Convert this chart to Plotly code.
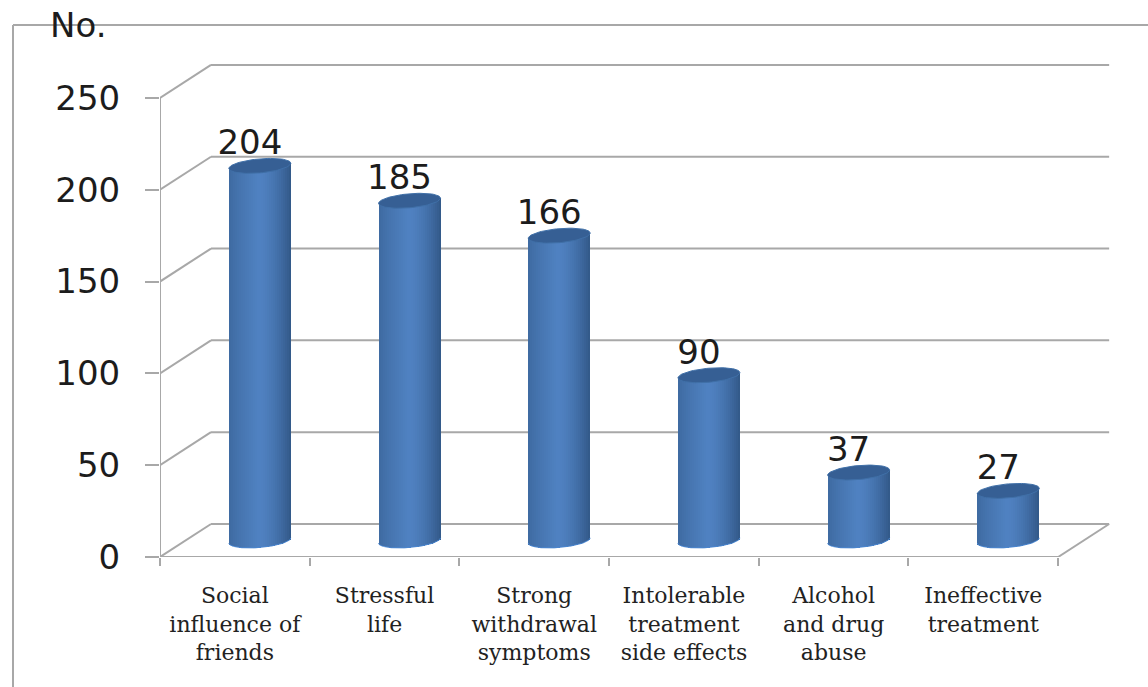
import math
import plotly.graph_objects as go

categories = [
    "Social<br>influence of<br>friends",
    "Stressful<br>life",
    "Strong<br>withdrawal<br>symptoms",
    "Intolerable<br>treatment<br>side effects",
    "Alcohol<br>and drug<br>abuse",
    "Ineffective<br>treatment",
]
counts = [204, 185, 166, 90, 37, 27]
y_ticks = [0, 50, 100, 150, 200, 250]

WIDTH, HEIGHT = 1148, 687
M_L, M_R, M_T, M_B = 160, 15, 52, 130
X_MAX, Y_MAX = 6.5, 275
PX_X = (WIDTH - M_L - M_R) / X_MAX
PX_Y = (HEIGHT - M_T - M_B) / Y_MAX

GREY = "#a8a8a8"
INK = "#1c1c1c"

# Oblique projection: back wall and cylinder depth, converted to axis units
WALL_DX, WALL_DY = 51 / PX_X, 33 / PX_Y
DEPTH_DX, DEPTH_DY = 25 / PX_X, 16.5 / PX_Y
RADIUS_X = 31 / PX_X
RADIUS_Y = 7 / PX_Y
TILT = 2.6 / PX_Y
LABEL_DX, LABEL_DY = -10 / PX_X, 20 / PX_Y
SLICES = 31


def mix(a, b, t):
    return tuple(a[k] + (b[k] - a[k]) * t for k in range(3))


def body_colour(u):
    # Horizontal shading across a cylinder, u runs from -1 to 1
    left, mid, right = (62, 106, 160), (80, 130, 194), (50, 88, 136)
    peak = -0.05
    if u < peak:
        c = mix(left, mid, ((u + 1) / (peak + 1)) ** 0.8)
    else:
        c = mix(mid, right, ((u - peak) / (1 - peak)) ** 1.6)
    return "rgb(%d,%d,%d)" % c


def ellipse(cx, cy, start=0.0, stop=2 * math.pi, n=72):
    xs, ys = [], []
    for k in range(n + 1):
        a = start + (stop - start) * k / n
        xs.append(cx + RADIUS_X * math.cos(a))
        ys.append(cy + RADIUS_Y * math.sin(a) + TILT * math.cos(a))
    return xs, ys


fig = go.Figure()

# Receding walls and gridlines sit behind the cylinders
shapes = []
for tick in y_ticks:
    shapes.append(dict(type="line", layer="below", xref="x", yref="y",
                       x0=0, y0=tick, x1=WALL_DX, y1=tick + WALL_DY,
                       line=dict(color=GREY, width=2)))
    shapes.append(dict(type="line", layer="below", xref="x", yref="y",
                       x0=WALL_DX, y0=tick + WALL_DY, x1=len(counts) + WALL_DX, y1=tick + WALL_DY,
                       line=dict(color=GREY, width=2)))
shapes.append(dict(type="line", layer="below", xref="x", yref="y",
                   x0=len(counts), y0=0, x1=len(counts) + WALL_DX, y1=WALL_DY,
                   line=dict(color=GREY, width=2)))

# Outer frame, open on the right and at the bottom
plot_w = WIDTH - M_L - M_R
plot_h = HEIGHT - M_T - M_B
frame_x = (13 - M_L) / plot_w
frame_y = (HEIGHT - M_B - 25) / plot_h
shapes.append(dict(type="line", xref="paper", yref="paper", x0=frame_x, y0=frame_y,
                   x1=(WIDTH - M_L) / plot_w, y1=frame_y, line=dict(color=GREY, width=2)))
shapes.append(dict(type="line", xref="paper", yref="paper", x0=frame_x, y0=frame_y,
                   x1=frame_x, y1=-M_B / plot_h, line=dict(color=GREY, width=2)))

# Front edges of the value and category axes
fig.add_trace(go.Scatter(x=[0, 0], y=[0, y_ticks[-1]], mode="lines", cliponaxis=False,
                         line=dict(color=GREY, width=2), hoverinfo="skip", showlegend=False))
fig.add_trace(go.Scatter(x=[0, len(counts)], y=[0, 0], mode="lines", cliponaxis=False,
                         line=dict(color=GREY, width=2), hoverinfo="skip", showlegend=False))

slice_w = 2 * RADIUS_X / SLICES
for i, value in enumerate(counts):
    cx = i + 0.5 + DEPTH_DX
    foot = DEPTH_DY
    head = value + DEPTH_DY

    # Cylinder wall: thin bars shaded left to right, resting on the lower ellipse
    xs, bases, heights, colours = [], [], [], []
    for s in range(SLICES):
        u = -1 + (s + 0.5) * 2 / SLICES
        low = foot + TILT * u - RADIUS_Y * math.sqrt(1 - u * u)
        high = head + TILT * u
        xs.append(cx + u * RADIUS_X)
        bases.append(low)
        heights.append(high - low)
        colours.append(body_colour(u))
    fig.add_trace(go.Bar(x=xs, y=heights, base=bases, width=slice_w * 1.04,
                         marker=dict(color=colours, line=dict(width=0)),
                         hoverinfo="skip", showlegend=False))

    # Lit rim along the lower edge
    rx, ry = ellipse(cx, foot, math.pi, 2 * math.pi)
    fig.add_trace(go.Scatter(x=rx, y=ry, mode="lines", cliponaxis=False,
                             line=dict(color="#4a86d0", width=1),
                             hoverinfo="skip", showlegend=False))

    # Top cap
    tx, ty = ellipse(cx, head)
    fig.add_trace(go.Scatter(x=tx, y=ty, mode="lines", fill="toself", cliponaxis=False,
                             fillcolor="#365f94", line=dict(color="#4070a8", width=1),
                             hoverinfo="skip", showlegend=False))

# Value labels above each cylinder
fig.add_trace(go.Scatter(
    x=[i + 0.5 + DEPTH_DX + LABEL_DX for i in range(len(counts))],
    y=[v + DEPTH_DY + LABEL_DY for v in counts],
    text=[str(v) for v in counts],
    mode="text", textposition="middle center", cliponaxis=False,
    textfont=dict(family="DejaVu Sans", size=34, color=INK),
    hoverinfo="skip", showlegend=False))

fig.update_layout(
    width=WIDTH, height=HEIGHT, autosize=False,
    margin=dict(l=M_L, r=M_R, t=M_T, b=M_B, pad=0),
    paper_bgcolor="white", plot_bgcolor="white",
    barmode="overlay", bargap=0, shapes=shapes,
    xaxis=dict(
        range=[0, X_MAX], showgrid=False, zeroline=False, showline=False,
        tickmode="array", tickvals=[i + 0.5 for i in range(len(categories))], ticktext=categories,
        ticks="", tickangle=0, ticklabelstandoff=23,
        tickfont=dict(family="DejaVu Serif", size=22, color="#222222"),
        minor=dict(tickmode="array", tickvals=list(range(len(categories) + 1)), ticks="outside",
                   ticklen=8, tickwidth=2, tickcolor=GREY, showgrid=False),
    ),
    yaxis=dict(
        range=[0, Y_MAX], showgrid=False, zeroline=False, showline=False,
        tickmode="array", tickvals=y_ticks, ticks="outside", ticklen=14, tickwidth=2, tickcolor=GREY,
        ticklabelstandoff=18,
        tickfont=dict(family="DejaVu Sans", size=34, color=INK),
    ),
    annotations=[dict(text="No.", xref="paper", yref="paper", showarrow=False,
                      x=(77.5 - M_L) / plot_w, y=(HEIGHT - M_B - 25) / plot_h,
                      xanchor="center", yanchor="middle",
                      font=dict(family="DejaVu Sans", size=34, color=INK))],
)

fig.write_html("out.html")
